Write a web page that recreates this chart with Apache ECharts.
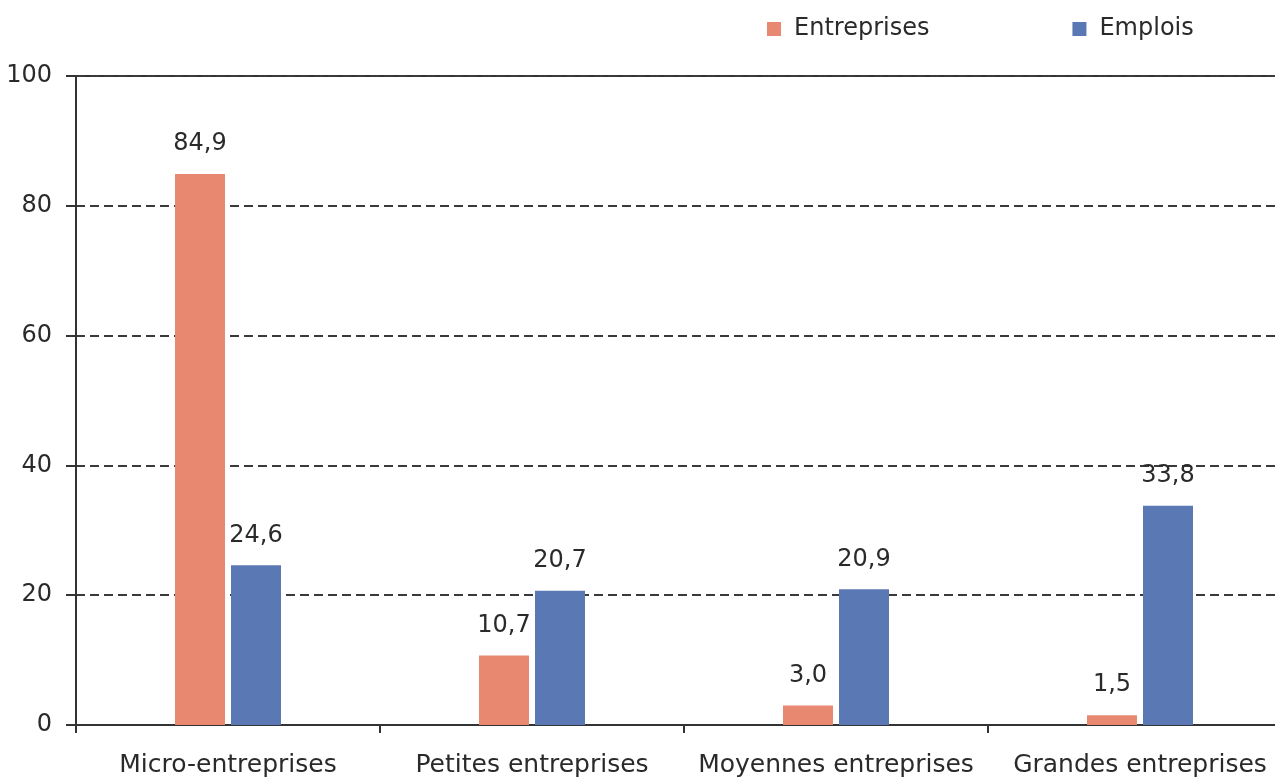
<!DOCTYPE html>
<html>
<head>
<meta charset="utf-8">
<script src="https://cdn.jsdelivr.net/npm/echarts@6/dist/echarts.min.js"></script>
<style>
html,body{margin:0;padding:0;background:#fff;overflow:hidden;}
#chart{width:1292px;height:779px;}
</style>
</head>
<body>
<div id="chart"></div>
<script>
const categories = ['Micro-entreprises', 'Petites entreprises', 'Moyennes entreprises', 'Grandes entreprises'];
const entreprises = [84.9, 10.7, 3.0, 1.5];
const emplois = [24.6, 20.7, 20.9, 33.8];
const seriesNames = ['Entreprises', 'Emplois'];

const FONT = 'DejaVu Sans';
const TXT = '#2a2a2a';
const fmt = p => p.value.toFixed(1).replace('.', ',');

const chart = echarts.init(document.getElementById('chart'), null, {renderer: 'canvas'});
chart.setOption({
  animation: false,
  backgroundColor: '#ffffff',
  textStyle: {fontFamily: FONT, color: TXT},
  legend: {
    left: 762, top: 12,
    itemWidth: 14, itemHeight: 14, itemGap: 143,
    icon: 'rect',
    textStyle: {fontFamily: FONT, fontSize: 24, color: TXT, padding: [0, 0, 0, 8]},
    data: seriesNames
  },
  grid: {
    left: 76, top: 76, bottom: 54, right: 0,
    show: true, borderColor: '#333', borderWidth: 2, backgroundColor: 'transparent'
  },
  xAxis: {
    type: 'category',
    data: categories,
    boundaryGap: true,
    axisLine: {lineStyle: {color: '#333', width: 2}},
    axisTick: {show: true, length: 8, lineStyle: {color: '#333', width: 2}},
    axisLabel: {fontFamily: FONT, fontSize: 25, color: TXT, margin: 28, interval: 0}
  },
  yAxis: {
    type: 'value',
    min: 0, max: 100, interval: 20,
    axisLine: {show: true, lineStyle: {color: '#333', width: 2}},
    axisTick: {show: true, inside: false, length: 10, lineStyle: {color: '#333', width: 2}},
    axisLabel: {fontFamily: FONT, fontSize: 24, color: TXT, margin: 24},
    splitLine: {show: true, lineStyle: {color: '#3a3a3a', width: 2, type: [9, 5]}}
  },
  series: [
    {
      name: seriesNames[0], type: 'bar', data: entreprises,
      barWidth: 50, barGap: '12%',
      itemStyle: {color: '#E88871'},
      label: {show: true, position: 'top', distance: 18, formatter: fmt,
              fontFamily: FONT, fontSize: 24, color: TXT}
    },
    {
      name: seriesNames[1], type: 'bar', data: emplois,
      barWidth: 50, barGap: '12%',
      itemStyle: {color: '#5A78B4'},
      label: {show: true, position: 'top', distance: 18, formatter: fmt,
              fontFamily: FONT, fontSize: 24, color: TXT}
    }
  ]
});
</script>
</body>
</html>
